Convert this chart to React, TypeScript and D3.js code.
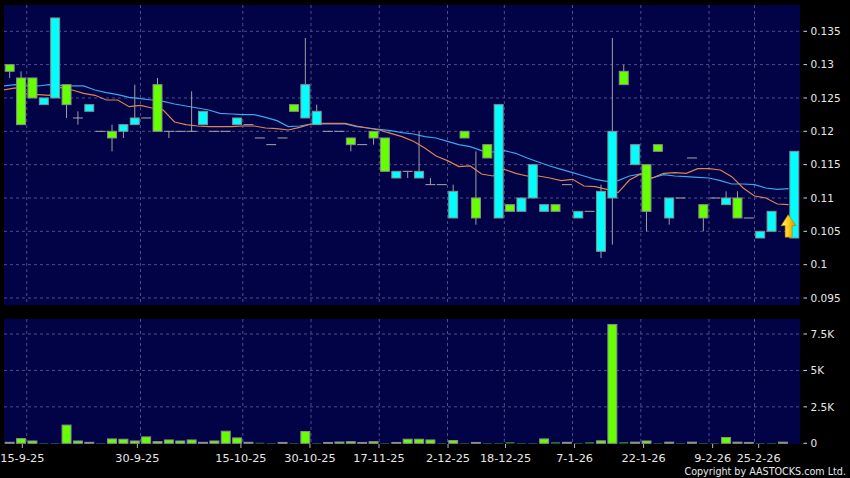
import React from 'react';
import * as d3 from 'd3';

// ---- Data ----
// index 68 has volume but its price mark is hidden under the signal arrow (null = not drawn)
const open = [0.130,0.128,0.128,0.124,0.125,0.127,0.122,0.123,0.120,0.120,0.120,0.121,0.122,0.127,0.120,0.120,0.120,0.121,0.120,0.120,0.121,0.121,0.119,0.118,0.119,0.124,0.122,0.121,0.120,0.120,0.119,0.118,0.120,0.119,0.113,0.114,0.113,0.112,0.112,0.107,0.120,0.110,0.118,0.107,0.109,0.108,0.110,0.108,0.109,0.112,0.107,0.108,0.102,0.110,0.129,0.115,0.115,0.118,0.107,0.110,0.116,0.109,0.110,0.109,0.110,0.107,0.104,0.105,null,0.104];
const high = [0.130,0.129,0.128,0.125,0.137,0.127,0.123,0.124,0.120,0.121,0.121,0.127,0.122,0.128,0.120,0.120,0.126,0.123,0.120,0.120,0.122,0.121,0.119,0.118,0.119,0.124,0.134,0.124,0.120,0.120,0.119,0.118,0.120,0.119,0.114,0.114,0.120,0.113,0.112,0.112,0.120,0.117,0.118,0.124,0.109,0.110,0.115,0.109,0.109,0.112,0.108,0.108,0.112,0.134,0.130,0.118,0.115,0.118,0.110,0.110,0.116,0.109,0.110,0.111,0.111,0.107,0.105,0.108,null,0.117];
const low = [0.128,0.121,0.125,0.124,0.125,0.122,0.121,0.123,0.120,0.117,0.119,0.121,0.122,0.120,0.119,0.120,0.120,0.121,0.120,0.120,0.121,0.121,0.119,0.118,0.119,0.123,0.122,0.121,0.120,0.120,0.117,0.118,0.118,0.114,0.113,0.113,0.113,0.112,0.112,0.107,0.119,0.106,0.116,0.107,0.108,0.108,0.110,0.108,0.108,0.112,0.107,0.108,0.101,0.103,0.127,0.115,0.105,0.117,0.106,0.110,0.116,0.105,0.110,0.109,0.107,0.107,0.104,0.105,null,0.104];
const close = [0.129,0.121,0.125,0.125,0.137,0.124,0.122,0.124,0.120,0.119,0.121,0.122,0.122,0.120,0.120,0.120,0.120,0.123,0.120,0.120,0.122,0.121,0.119,0.118,0.119,0.123,0.127,0.123,0.120,0.120,0.118,0.118,0.119,0.114,0.114,0.114,0.114,0.112,0.112,0.111,0.119,0.107,0.116,0.124,0.108,0.110,0.115,0.109,0.108,0.112,0.108,0.108,0.111,0.120,0.127,0.118,0.108,0.117,0.110,0.110,0.116,0.107,0.110,0.110,0.107,0.107,0.105,0.108,null,0.117];
const volume = [70,325,160,20,20,1250,160,70,20,300,280,160,440,115,230,160,230,70,160,830,370,70,30,20,60,20,810,20,60,90,110,60,110,20,60,280,280,230,20,190,20,60,20,20,50,20,20,300,50,70,20,50,170,8150,50,80,160,20,80,20,80,20,20,400,80,60,20,20,80,0];
// moving averages, one value per candle boundary (first = previous session)
const ma10 = [0.1262,0.1265,0.1256,0.1255,0.1254,0.1266,0.1262,0.1257,0.1254,0.1247,0.1247,0.1237,0.1239,0.1235,0.1232,0.1214,0.1210,0.1208,0.1207,0.1207,0.1207,0.1208,0.1208,0.1205,0.1204,0.1202,0.1206,0.1211,0.1212,0.1212,0.1212,0.1208,0.1205,0.1202,0.1197,0.1192,0.1185,0.1175,0.1163,0.1156,0.1147,0.1148,0.1136,0.1133,0.1143,0.1137,0.1133,0.1133,0.1130,0.1126,0.1128,0.1118,0.1117,0.1113,0.1108,0.1127,0.1136,0.1130,0.1137,0.1138,0.1137,0.1144,0.1144,0.1142,0.1132,0.1115,0.1103,0.1100,0.1091,0.1090];
const ma20 = [0.1268,0.1270,0.1268,0.1268,0.1270,0.1269,0.1268,0.1268,0.1262,0.1258,0.1255,0.1251,0.1249,0.1247,0.1245,0.1241,0.1238,0.1235,0.1232,0.1227,0.1226,0.1225,0.1225,0.1221,0.1216,0.1207,0.1208,0.1211,0.1211,0.1211,0.1211,0.1207,0.1205,0.1203,0.1201,0.1198,0.1196,0.1192,0.1190,0.1185,0.1180,0.1177,0.1171,0.1169,0.1171,0.1167,0.1160,0.1154,0.1148,0.1143,0.1138,0.1133,0.1128,0.1125,0.1126,0.1133,0.1136,0.1130,0.1135,0.1133,0.1132,0.1131,0.1130,0.1126,0.1121,0.1121,0.1120,0.1115,0.1113,0.1114];
const dateTickIndex = [2,12,21,27,33,39,44,50,56,62,66];
const dateTickLabel = ['15-9-25','30-9-25','15-10-25','30-10-25','17-11-25','2-12-25','18-12-25','7-1-26','22-1-26','9-2-26','25-2-26'];
const priceTicks = [0.095,0.1,0.105,0.11,0.115,0.12,0.125,0.13,0.135];
const volTicks = [0,2500,5000,7500];
const volTickLabel = ['0','2.5K','5K','7.5K'];
const signalIndex = 69;
const signalPrice = 0.1075;

const FONT = "'DejaVu Sans', Verdana, sans-serif";

export default function App() {
  const N = volume.length;
  const plotL = 4, plotR = 800;
  const priceTop = 5, priceBot = 305;
  const volTop = 319, volBot = 444;

  const x = d3.scaleBand<number>().domain(d3.range(N)).range([plotL, plotR]);
  const bw = x.bandwidth();
  const edge = (j: number) => plotL + j * x.step();
  const xAxis = d3.scaleLinear().domain([0, N]).range([-0.7, 804.7]);
  const y = d3.scaleLinear().domain([0.095, 0.135]).range([298, 31.3]);
  const yv = d3.scaleLinear().domain([0, 7500]).range([443.3, 334]);

  const maLine = d3.line<number>().x((_, j) => edge(j)).y((v) => y(v));

  const gridColor = '#4d4d8c';
  const green = '#66ff00';
  const cyan = '#00ffff';
  const boxStroke = '#8c8c8c';

  const ax = edge(signalIndex);
  const ay = y(signalPrice);
  const arrowPath = `M${ax - 0.5},${ay} L${ax + 7.5},${ay + 11} L${ax + 3.5},${ay + 11} L${ax + 3.5},${ay + 22.5} L${ax - 3.5},${ay + 22.5} L${ax - 3.5},${ay + 11} L${ax - 7.5},${ay + 11} Z`;

  return (
    <svg width={850} height={478} style={{ position: 'absolute', left: 0, top: 0, display: 'block' }}>
      <defs>
        <linearGradient id="arrowGrad" x1="0" x2="1" y1="0" y2="0">
          <stop offset="0" stopColor="#fff59a" />
          <stop offset="0.45" stopColor="#ffd21a" />
          <stop offset="1" stopColor="#d98a00" />
        </linearGradient>
        <clipPath id="priceClip">
          <rect x={plotL} y={priceTop} width={plotR - plotL} height={priceBot - priceTop} />
        </clipPath>
      </defs>
      <rect x={0} y={0} width={850} height={478} fill="#000" />
      {/* panels */}
      <rect x={plotL} y={priceTop} width={plotR - plotL} height={priceBot - priceTop} fill="#020246" />
      <rect x={plotL} y={volTop} width={plotR - plotL} height={volBot - volTop} fill="#020246" />

      {/* grids */}
      {priceTicks.map((t) => (
        <line key={'pg' + t} x1={plotL} x2={plotR} y1={y(t)} y2={y(t)} stroke={gridColor} strokeDasharray="3,3" />
      ))}
      {volTicks.slice(1).map((t) => (
        <line key={'vg' + t} x1={plotL} x2={plotR} y1={yv(t)} y2={yv(t)} stroke={gridColor} strokeDasharray="3,3" />
      ))}
      {dateTickIndex.map((j) => (
        <g key={'xg' + j}>
          <line x1={edge(j)} x2={edge(j)} y1={priceTop} y2={priceBot} stroke={gridColor} strokeDasharray="3,3" />
          <line x1={edge(j)} x2={edge(j)} y1={volTop} y2={volBot} stroke={gridColor} strokeDasharray="3,3" />
        </g>
      ))}

      {/* price panel */}
      <g clipPath="url(#priceClip)">
        <path d={maLine(ma20) || ''} fill="none" stroke="#3aa6ee" strokeWidth={1.2} />
        <path d={maLine(ma10) || ''} fill="none" stroke="#e0824e" strokeWidth={1.2} />
        {open.map((o, i) => {
          const c = close[i];
          if (o == null || c == null) return null;
          const cx = (x(i) as number) + bw / 2;
          const wick = (
            <line x1={cx} x2={cx} y1={y(high[i] as number)} y2={y(low[i] as number)} stroke="#a0a0a0" strokeWidth={1} />
          );
          if (o === c) {
            return (
              <g key={'c' + i}>
                {wick}
                <line x1={(x(i) as number) + 0.7} x2={(x(i) as number) + bw - 0.7} y1={y(o)} y2={y(o)} stroke="#a8a8a8" strokeWidth={1} />
              </g>
            );
          }
          const top = y(Math.max(o, c));
          const bot = y(Math.min(o, c));
          return (
            <g key={'c' + i}>
              {wick}
              <rect x={(x(i) as number) + 1.2} width={bw - 2.4} y={top} height={bot - top}
                fill={c > o ? cyan : green} stroke={boxStroke} strokeWidth={1} />
            </g>
          );
        })}
        <path d={arrowPath} fill="url(#arrowGrad)" stroke="#b87800" strokeWidth={0.6} />
      </g>

      {/* volume panel */}
      {volume.map((v, i) => {
        const top = yv(v);
        const h = yv(0) - top;
        if (h <= 0) return null;
        return (
          <rect key={'v' + i} x={(x(i) as number) + 1.2} width={bw - 2.4} y={top} height={h}
            fill={green} stroke={h >= 0.8 ? boxStroke : 'none'} strokeWidth={1} />
        );
      })}

      {/* right axis labels */}
      {priceTicks.map((t) => (
        <g key={'pl' + t}>
          <line x1={803.5} x2={807} y1={y(t)} y2={y(t)} stroke="#d8d8d8" />
          <text x={810.5} y={y(t)} dy="0.35em" fill="#e8e8e8" fontSize={10.5} fontFamily={FONT}>{String(+t.toFixed(3))}</text>
        </g>
      ))}
      {volTicks.map((t, k) => (
        <g key={'vl' + t}>
          <line x1={803.5} x2={807} y1={yv(t)} y2={yv(t)} stroke="#d8d8d8" />
          <text x={810.5} y={yv(t)} dy="0.35em" fill="#e8e8e8" fontSize={10.5} fontFamily={FONT}>{volTickLabel[k]}</text>
        </g>
      ))}

      {/* date axis */}
      {dateTickIndex.map((j, k) => (
        <g key={'dl' + j}>
          <line x1={xAxis(j)} x2={xAxis(j)} y1={volBot} y2={volBot + 4} stroke="#bbbbbb" />
          <text x={xAxis(j)} y={458} dy="0.35em" textAnchor="middle" fill="#e8e8e8" fontSize={11.3} fontFamily={FONT}>{dateTickLabel[k]}</text>
        </g>
      ))}
      <text x={846} y={471.5} dy="0.35em" textAnchor="end" fill="#e8e8e8" fontSize={9.6} fontFamily={FONT}>Copyright by AASTOCKS.com Ltd.</text>
    </svg>
  );
}
